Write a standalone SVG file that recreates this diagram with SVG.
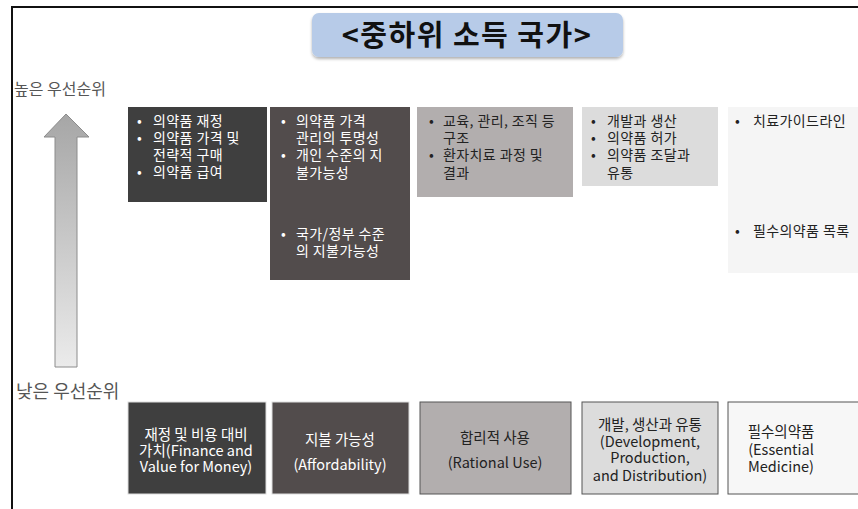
<svg xmlns="http://www.w3.org/2000/svg" width="858" height="509" viewBox="0 0 858 509">
<defs>
<linearGradient id="ag" x1="0" y1="0" x2="0" y2="1">
<stop offset="0" stop-color="#a6a6a6"/>
<stop offset="1" stop-color="#ebebeb"/>
</linearGradient>
<filter id="sh" x="-5%" y="-20%" width="110%" height="150%">
<feDropShadow dx="0" dy="2" stdDeviation="1.5" flood-color="#000" flood-opacity="0.3"/>
</filter>
</defs>
<style>
text{font-family:"Noto Sans CJK KR","Noto Sans",sans-serif;}
.t{font-size:14px;letter-spacing:0.4px;}
.w{fill:#ffffff;}
.d{fill:#222222;}
.b{font-size:14.5px;text-anchor:middle;}
.lab{fill:#555555;}
</style>
<rect width="858" height="509" fill="#ffffff"/>
<path d="M12 509 V7 H858" fill="none" stroke="#111" stroke-width="2"/>
<g id="title">
<rect x="312" y="13" width="311" height="44" rx="7" fill="#b7cbe8" filter="url(#sh)"/>
<text x="467" y="46" font-size="29" font-weight="bold" letter-spacing="1.5" text-anchor="middle" fill="#111">&lt;중하위 소득 국가&gt;</text>
</g>
<g id="axis">
<text class="lab" x="14" y="95" font-size="16">높은 우선순위</text>
<text class="lab" x="16" y="398" font-size="18">낮은 우선순위</text>
<path d="M66 114 L89 137 L77 137 L77 367 L55 367 L55 137 L44 137 Z" fill="url(#ag)" stroke="#8c8c8c" stroke-width="1"/>
</g>
<g id="top1">
<rect x="128" y="107" width="139" height="95" fill="#3f3f3f"/>
<g class="t w">
<text x="137" y="126">•</text><text x="153" y="126">의약품 재정</text>
<text x="137" y="143">•</text><text x="153" y="143">의약품 가격 및</text>
<text x="153" y="160">전략적 구매</text>
<text x="137" y="177">•</text><text x="153" y="177">의약품 급여</text>
</g>
</g>
<g id="top2">
<rect x="270" y="107" width="140" height="173" fill="#524c4c"/>
<g class="t w">
<text x="281" y="126">•</text><text x="296" y="126">의약품 가격</text>
<text x="296" y="143">관리의 투명성</text>
<text x="281" y="160">•</text><text x="296" y="160">개인 수준의 지</text>
<text x="296" y="178">불가능성</text>
<text x="281" y="239">•</text><text x="296" y="239">국가/정부 수준</text>
<text x="296" y="256">의 지불가능성</text>
</g>
</g>
<g id="top3">
<rect x="417" y="107" width="156" height="90" fill="#b2aeae"/>
<g class="t d">
<text x="429" y="126">•</text><text x="443" y="126">교육, 관리, 조직 등</text>
<text x="443" y="143">구조</text>
<text x="429" y="160">•</text><text x="443" y="160">환자치료 과정 및</text>
<text x="443" y="178">결과</text>
</g>
</g>
<g id="top4">
<rect x="582" y="107" width="136" height="79" fill="#dcdcdc"/>
<g class="t d">
<text x="591" y="126">•</text><text x="607" y="126">개발과 생산</text>
<text x="591" y="143">•</text><text x="607" y="143">의약품 허가</text>
<text x="591" y="160">•</text><text x="607" y="160">의약품 조달과</text>
<text x="607" y="178">유통</text>
</g>
</g>
<g id="top5">
<rect x="728" y="107" width="130" height="166" fill="#f5f5f5"/>
<g class="t d">
<text x="735" y="126">•</text><text x="753" y="126">치료가이드라인</text>
<text x="735" y="236">•</text><text x="753" y="236">필수의약품 목록</text>
</g>
</g>
<g id="bot1">
<rect x="128" y="402" width="138" height="92" fill="#3f3f3f" stroke="#dddddd"/>
<g class="b w">
<text x="196" y="440">재정 및 비용 대비</text>
<text x="196" y="456">가치(Finance and</text>
<text x="196" y="472">Value for Money)</text>
</g>
</g>
<g id="bot2">
<rect x="272" y="402" width="137" height="92" fill="#524c4c" stroke="#dddddd"/>
<g class="b w">
<text x="340" y="445">지불 가능성</text>
<text x="340" y="470">(Affordability)</text>
</g>
</g>
<g id="bot3">
<rect x="420" y="402" width="151" height="92" fill="#b2aeae" stroke="#555555"/>
<g class="b d">
<text x="495" y="443">합리적 사용</text>
<text x="495" y="468">(Rational Use)</text>
</g>
</g>
<g id="bot4">
<rect x="582" y="402" width="136" height="92" fill="#dcdcdc" stroke="#555555"/>
<g class="b d">
<text x="650" y="430">개발, 생산과 유통</text>
<text x="650" y="447">(Development,</text>
<text x="650" y="463">Production,</text>
<text x="650" y="481">and Distribution)</text>
</g>
</g>
<g id="bot5">
<rect x="728" y="402" width="135" height="92" fill="#f7f7f7" stroke="#555555"/>
<g class="b d">
<text x="781" y="437">필수의약품</text>
<text x="781" y="455">(Essential</text>
<text x="781" y="472">Medicine)</text>
</g>
</g>
</svg>
